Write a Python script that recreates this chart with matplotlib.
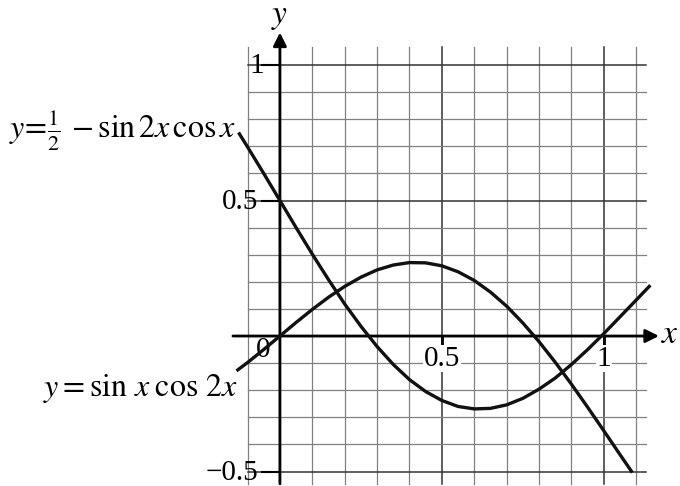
import numpy as np
import matplotlib.pyplot as plt

plt.rcParams['mathtext.fontset'] = 'stix'
plt.rcParams['font.family'] = ['Liberation Serif', 'DejaVu Serif']

# curve y = 1/2 - sin2x cosx
x_a = [-0.125, -0.1, -0.05, 0.0, 0.05, 0.1, 0.15, 0.2, 0.25, 0.3, 0.35, 0.4,
       0.45, 0.5, 0.55, 0.6, 0.65, 0.7, 0.75, 0.8, 0.85, 0.9, 0.95, 1.0,
       1.05, 1.1, 1.14]
y_a = [0.746, 0.698, 0.600, 0.500, 0.400, 0.302, 0.208, 0.118, 0.036, -0.039,
       -0.105, -0.161, -0.205, -0.238, -0.260, -0.269, -0.267, -0.254, -0.230,
       -0.196, -0.155, -0.105, -0.050, 0.009, 0.071, 0.133, 0.183]

# curve y = sin x cos 2x
x_b = [-0.13, -0.1, -0.05, 0.0, 0.05, 0.1, 0.15, 0.2, 0.25, 0.3, 0.35, 0.4,
       0.45, 0.5, 0.55, 0.6, 0.65, 0.7, 0.75, 0.8, 0.85, 0.9, 0.95, 1.0,
       1.05, 1.085]
y_b = [-0.125, -0.098, -0.050, 0.000, 0.050, 0.098, 0.143, 0.183, 0.217, 0.244,
       0.262, 0.271, 0.270, 0.259, 0.237, 0.205, 0.162, 0.110, 0.048, -0.021,
       -0.097, -0.178, -0.263, -0.350, -0.438, -0.499]

y_ticks = [1.0, 0.5, -0.5]
y_tick_labels = ['1', '0.5', '\u22120.5']
x_ticks = [0.5, 1.0]
x_tick_labels = ['0.5', '1']

fig = plt.figure(figsize=(6.8, 4.86), dpi=100)
ax = fig.add_axes([0, 0, 1, 1])
ax.set_xlim(-0.864, 1.235)
ax.set_ylim(-0.5535, 1.24)
ax.axis('off')

# grid
for gx in np.round(np.arange(-0.1, 1.101, 0.1), 2):
    dark = gx in (0.5, 1.0)
    ax.plot([gx, gx], [-0.545, 1.065], color='#333333' if dark else '#808080',
            lw=1.1 if dark else 0.9, zorder=1)
for gy in np.round(np.arange(-0.5, 1.001, 0.1), 2):
    dark = gy in (1.0, 0.5, -0.5)
    ax.plot([-0.1, 1.13], [gy, gy], color='#333333' if dark else '#808080',
            lw=1.1 if dark else 0.9, zorder=1)

# axes with arrows
arrow = dict(arrowstyle='-|>', lw=2, color='black', mutation_scale=20,
             shrinkA=0, shrinkB=0)
ax.annotate('', xy=(1.17, 0), xytext=(-0.145, 0), arrowprops=arrow, zorder=3)
ax.annotate('', xy=(0, 1.12), xytext=(0, -0.545), arrowprops=arrow, zorder=3)

# ticks
for t in y_ticks:
    ax.plot([-0.055, 0], [t, t], color='black', lw=1.5, zorder=3)
for t in x_ticks:
    ax.plot([t, t], [0, -0.03], color='black', lw=2, zorder=3)

for t, lab in zip(y_ticks, y_tick_labels):
    ax.text(-0.05 if t == 1.0 else -0.066, t - 0.005, lab, ha='right',
            va='center', fontsize=21, zorder=4)
for t, lab in zip(x_ticks, x_tick_labels):
    ax.text(t, -0.083, lab, ha='center', va='center', fontsize=21, zorder=4,
            bbox=dict(facecolor='white', edgecolor='none', pad=0.5))
ax.text(-0.052, -0.05, '0', ha='center', va='center', fontsize=21, zorder=2)

ax.text(1.175, 0.005, r'$x$', ha='left', va='center', fontsize=24)
ax.text(0.0, 1.18, r'$y$', ha='center', va='center', fontsize=24)

# curves
ax.plot(x_a, y_a, color='#111111', lw=2.4, zorder=5)
ax.plot(x_b, y_b, color='#111111', lw=2.4, zorder=5)

ax.text(-0.135, 0.76, r'$y\!=\!\frac{1}{2}\,-\sin2x\,\cos x$', ha='right',
        va='center', fontsize=23)
ax.text(-0.13, -0.192, r'$y = \sin\,x\;\cos\,2x$', ha='right', va='center',
        fontsize=23)

fig.savefig('out.png', dpi=100)
